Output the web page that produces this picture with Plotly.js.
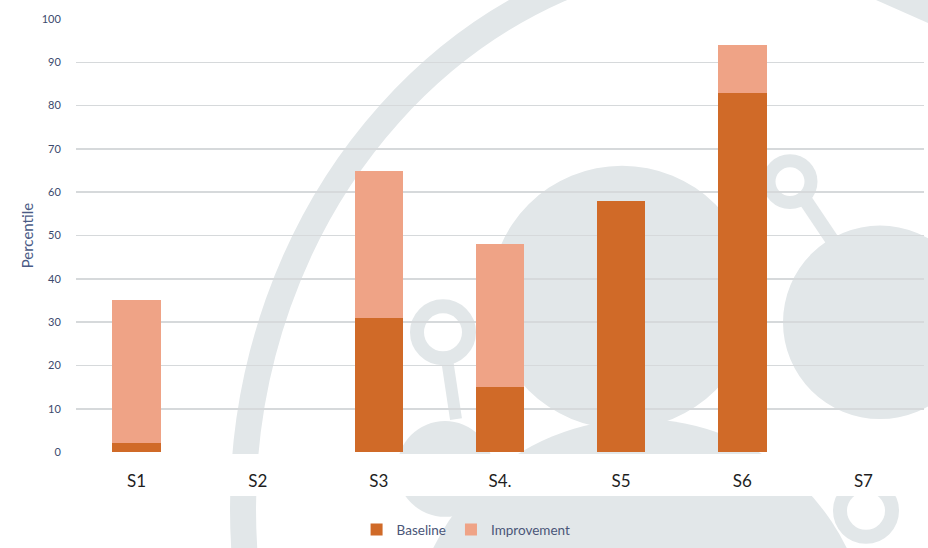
<!DOCTYPE html>
<html>
<head>
<meta charset="utf-8">
<script src="https://cdn.plot.ly/plotly-3.0.1.min.js"></script>
<style>
  html, body { margin: 0; padding: 0; background: #ffffff; }
  #chart { width: 928px; height: 548px; }
</style>
</head>
<body>
<div id="chart"></div>
<script>
// Percentile per site: baseline and the improvement stacked on top of it
const sites = ['S1', 'S2', 'S3', 'S4.', 'S5', 'S6', 'S7'];
const baseline = [2, null, 31, 15, 58, 83, null];
const improvement = [33, null, 34, 33, null, 11, null];
const yTicks = [0, 10, 20, 30, 40, 50, 60, 70, 80, 90, 100];

const W = 928, H = 548;
const M = { l: 76, r: 4, t: 19, b: 95 };
const plotW = W - M.l - M.r, plotH = H - M.t - M.b;

// helpers: page pixels -> paper fractions for the background artwork
const px = v => (v - M.l) / plotW;
const py = v => (H - M.b - v) / plotH;
const WM = '#e2e7e9';

function oval(cx, cy, rx, ry, w) {
  return { type: 'circle', xref: 'paper', yref: 'paper', layer: 'below',
    x0: px(cx - rx), x1: px(cx + rx), y0: py(cy + ry), y1: py(cy - ry),
    fillcolor: 'rgba(0,0,0,0)', line: { color: WM, width: w } };
}
function disc(cx, cy, r) {
  return { type: 'circle', xref: 'paper', yref: 'paper', layer: 'below',
    x0: px(cx - r), x1: px(cx + r), y0: py(cy + r), y1: py(cy - r),
    fillcolor: WM, line: { width: 0 } };
}
function ring(cx, cy, r, w) { return oval(cx, cy, r, r, w); }
function stroke(x0, y0, x1, y1, w) {
  return { type: 'line', xref: 'paper', yref: 'paper', layer: 'below',
    x0: px(x0), y0: py(y0), x1: px(x1), y1: py(y1),
    line: { color: WM, width: w } };
}

const shapes = [
  oval(743, 510, 500, 560, 26),
  disc(622, 298, 132),
  disc(880, 323, 97),
  ring(443, 333, 26, 14),
  stroke(447, 360, 456, 420, 12),
  disc(445, 470, 48),
  ring(790, 182, 21, 13),
  stroke(805, 200, 835, 245, 14),
  disc(640, 650, 230),
  ring(866, 512, 26, 14),
  { type: 'path', xref: 'paper', yref: 'paper', layer: 'below',
    path: 'M' + px(876) + ',' + py(0) + ' L' + px(930) + ',' + py(0) + ' L' + px(930) + ',' + py(24) + ' Z',
    fillcolor: WM, line: { width: 0 } },
  // clear strip behind the category labels
  { type: 'rect', xref: 'paper', yref: 'paper', layer: 'below',
    x0: px(-2), x1: px(W + 2), y0: py(497), y1: py(455),
    fillcolor: '#ffffff', line: { width: 0 } }
];

const traces = [
  { type: 'bar', name: 'Baseline', x: sites, y: baseline,
    marker: { color: '#d06a28' }, width: 0.4, hoverinfo: 'x+y+name' },
  { type: 'bar', name: 'Improvement', x: sites, y: improvement,
    marker: { color: '#efa386' }, width: 0.4, hoverinfo: 'x+y+name' }
];

const layout = {
  width: W, height: H,
  margin: M,
  paper_bgcolor: '#ffffff',
  plot_bgcolor: 'rgba(0,0,0,0)',
  barmode: 'stack',
  showlegend: true,
  shapes: shapes,
  font: { family: 'Lato, "Open Sans", sans-serif' },
  xaxis: {
    type: 'category',
    categoryorder: 'array', categoryarray: sites,
    range: [-0.5, 6.5],
    showgrid: false, zeroline: false, showline: false,
    ticks: 'outside', ticklen: 14, tickcolor: 'rgba(0,0,0,0)',
    tickfont: { family: 'Lato, sans-serif', size: 17, color: '#1e1e1e' }
  },
  yaxis: {
    range: [0, 100],
    tickvals: yTicks,
    ticktext: yTicks.map(String),
    showgrid: true, gridcolor: '#d6d9db', gridwidth: 1.6,
    zeroline: false, showline: false,
    ticks: 'outside', ticklen: 12, tickcolor: 'rgba(0,0,0,0)',
    tickfont: { family: 'Lato, sans-serif', size: 11, color: '#3c4a6e' },
    title: { text: 'Percentile', standoff: 4,
      font: { family: 'Lato, sans-serif', size: 15, color: '#4a5a85' } }
  },
  legend: {
    orientation: 'h',
    x: 0.46, xanchor: 'center',
    y: -0.177, yanchor: 'middle',
    bgcolor: 'rgba(0,0,0,0)',
    font: { family: 'Lato, sans-serif', size: 13.5, color: '#4a5678' },
    traceorder: 'normal'
  }
};

Plotly.newPlot('chart', traces, layout, { displayModeBar: false, staticPlot: true });
</script>
</body>
</html>
